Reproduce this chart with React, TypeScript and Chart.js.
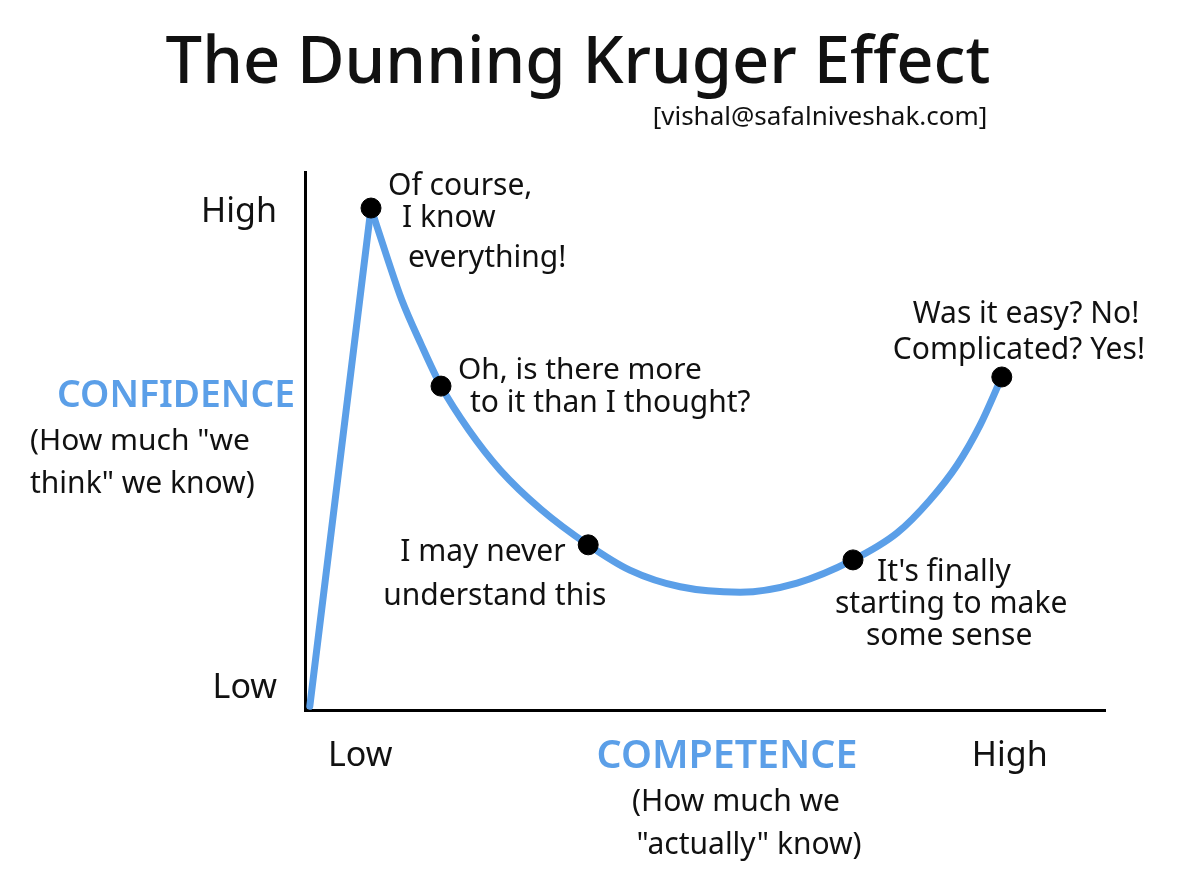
import { useEffect, useRef } from "react";
import { Chart, registerables } from "chart.js";

Chart.register(...registerables);

// ---- data (competence 0..100 on x, confidence 0..100 on y) ----
const riseX = [0.6, 8.25];
const riseY = [0.7, 93.3];
const curveX = [8.25, 10.4, 12.1, 14.5, 17.0, 20.5, 24.4, 29.5, 35.4, 40.6, 46.9, 54.4, 61.5, 68.5, 74.0, 78.1, 81.5, 84.4, 87.1];
const curveY = [93.3, 83.5, 76.2, 68.0, 60.2, 52.0, 44.6, 37.3, 30.7, 26.0, 22.9, 21.9, 23.6, 27.9, 32.9, 39.0, 45.5, 53.0, 61.9];
const milestoneX = [8.25, 17.0, 35.4, 68.5, 87.1];
const milestoneY = [93.3, 60.2, 30.7, 27.9, 61.9];
const milestoneNotes = [
  ["Of course,", "I know", "everything!"],
  ["Oh, is there more", "to it than I thought?"],
  ["I may never", "understand this"],
  ["It's finally", "starting to make", "some sense"],
  ["Was it easy? No!", "Complicated? Yes!"],
];
const yTickValues = [4, 92.5];
const yTickLabels = ["Low", "High"];
const xTickValues = [6.9, 88.1];
const xTickLabels = ["Low", "High"];
const titleText = "The Dunning Kruger Effect";
const creditText = "[vishal@safalniveshak.com]";
const yTitle = ["CONFIDENCE", "(How much \"we", "think\" we know)"];
const xTitle = ["COMPETENCE", "(How much we", "\"actually\" know)"];

// ---- styles / layout ----
const FONT = "'Noto Sans', 'DejaVu Sans', sans-serif";
const BLUE = "#5b9fe8";
const INK = "#111";

// per note line: [dx from dot, dy from dot, target width]
const noteLayout = [
  [[17, -22, 146], [31, 10, 106], [37, 50, 160]],
  [[17, -16, 244], [29, 17, 330]],
  [[-188, 8, 178], [-205, 52, 234]],
  [[24, 13, 172], [-18, 45, 258], [13, 77, 192]],
  [[-89, -63, 250], [-109, -27, 274]],
];

function fitText(ctx: CanvasRenderingContext2D, text: string, x: number, y: number, width: number, maxSize: number, weight: string, color: string, align: CanvasTextAlign = "left") {
  ctx.font = `${weight} ${maxSize}px ${FONT}`;
  const w = ctx.measureText(text).width;
  const size = w > 0 ? Math.min(maxSize, (maxSize * width) / w) : maxSize;
  ctx.font = `${weight} ${size}px ${FONT}`;
  ctx.fillStyle = color;
  ctx.textAlign = align;
  ctx.textBaseline = "middle";
  ctx.fillText(text, x, y);
}

const textPlugin = {
  id: "dkText",
  afterDraw(chart: any) {
    const ctx: CanvasRenderingContext2D = chart.ctx;
    const xs = chart.scales.x;
    const ys = chart.scales.y;
    ctx.save();
    // headline
    fitText(ctx, titleText, 578, 64, 825, 80, "500", INK, "center");
    fitText(ctx, creditText, 820, 118, 340, 26, "400", INK, "center");
    // notes anchored to milestone dots
    milestoneNotes.forEach((lines, i) => {
      const px = xs.getPixelForValue(milestoneX[i]);
      const py = ys.getPixelForValue(milestoneY[i]);
      lines.forEach((t, j) => {
        const [dx, dy, w] = noteLayout[i][j];
        fitText(ctx, t, px + dx, py + dy, w, 30, "400", INK);
      });
    });
    // y axis title
    fitText(ctx, yTitle[0], 176, 396, 238, 40, "600", BLUE, "center");
    fitText(ctx, yTitle[1], 30, 441, 220, 30, "400", INK);
    fitText(ctx, yTitle[2], 30, 484, 242, 30, "400", INK);
    // x axis title
    fitText(ctx, xTitle[0], 727, 757, 261, 40, "600", BLUE, "center");
    fitText(ctx, xTitle[1], 736, 802, 223, 30, "400", INK, "center");
    fitText(ctx, xTitle[2], 749, 845, 274, 30, "400", INK, "center");
    ctx.restore();
  },
};

export default function App() {
  const ref = useRef<HTMLCanvasElement | null>(null);

  useEffect(() => {
    if (!ref.current) return;
    const chart = new Chart(ref.current, {
      type: "scatter",
      data: {
        datasets: [
          {
            label: "milestones",
            data: milestoneX.map((x, i) => ({ x, y: milestoneY[i] })),
            pointRadius: 10,
            pointBackgroundColor: "#000",
            pointBorderColor: "#000",
            showLine: false,
            order: 0,
          },
          {
            label: "rise",
            data: riseX.map((x, i) => ({ x, y: riseY[i] })),
            showLine: true,
            borderColor: BLUE,
            borderWidth: 7,
            borderCapStyle: "round",
            pointRadius: 0,
            tension: 0,
            order: 1,
          },
          {
            label: "curve",
            data: curveX.map((x, i) => ({ x, y: curveY[i] })),
            showLine: true,
            borderColor: BLUE,
            borderWidth: 7,
            borderCapStyle: "round",
            borderJoinStyle: "round",
            pointRadius: 0,
            cubicInterpolationMode: "monotone",
            order: 2,
          },
        ],
      },
      options: {
        animation: false,
        responsive: false,
        layout: { padding: { left: 185, top: 172, right: 89, bottom: 79 } },
        plugins: { legend: { display: false }, tooltip: { enabled: false }, title: { display: false } },
        scales: {
          x: {
            type: "linear",
            min: 0,
            max: 100,
            grid: { display: false },
            border: { display: true, color: "#000", width: 3 },
            afterBuildTicks: (s: any) => {
              s.ticks = xTickValues.map((v) => ({ value: v }));
            },
            afterFit: (s: any) => {
              s.height = 80;
            },
            ticks: {
              autoSkip: false,
              maxRotation: 0,
              padding: 18,
              color: INK,
              font: { family: FONT, size: 34 },
              callback: (v: any) => xTickLabels[xTickValues.indexOf(Number(v))] ?? "",
            },
          },
          y: {
            type: "linear",
            min: 0,
            max: 100,
            grid: { display: false },
            border: { display: true, color: "#000", width: 3 },
            afterBuildTicks: (s: any) => {
              s.ticks = yTickValues.map((v) => ({ value: v }));
            },
            afterFit: (s: any) => {
              s.width = 120;
            },
            ticks: {
              autoSkip: false,
              padding: 20,
              color: INK,
              font: { family: FONT, size: 34 },
              callback: (v: any) => yTickLabels[yTickValues.indexOf(Number(v))] ?? "",
            },
          },
        },
      },
      plugins: [textPlugin],
    } as any);
    return () => chart.destroy();
  }, []);

  return (
    <div style={{ position: "absolute", left: 0, top: 0, width: 1194, height: 869, background: "#fff" }}>
      <canvas ref={ref} width={1194} height={869} style={{ display: "block", width: 1194, height: 869 }} />
    </div>
  );
}
